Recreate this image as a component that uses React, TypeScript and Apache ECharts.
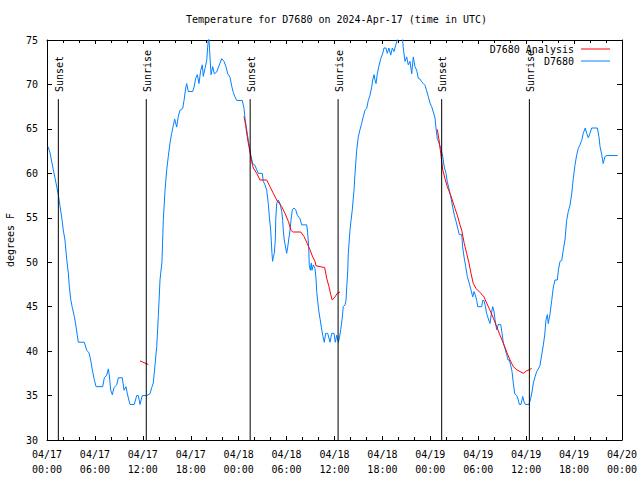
import { useEffect, useRef } from "react";
import * as echarts from "echarts";

const TITLE = "Temperature for D7680 on 2024-Apr-17 (time in UTC)";
const Y_NAME = "degrees F";
const OBS_NAME = "D7680";
const ANA_NAME = "D7680 Analysis";
const FONT = '"DejaVu Sans Mono", "Liberation Mono", monospace';

// hours since 2024-04-17 00:00 UTC
const obsHours = [
  0.13, 0.38, 0.79, 1.13, 1.42, 1.63, 1.88, 2.04, 2.25, 2.47, 2.67, 2.79, 2.97, 3.17, 3.42, 3.63, 3.79, 3.92, 4.67, 4.97,
  5.26, 5.47, 5.67, 5.92, 6.14, 6.97, 7.18, 7.48, 7.68, 7.8, 7.98, 8.18, 8.39, 8.73, 8.93, 9.43, 9.64, 9.89, 10.06, 10.39,
  10.93, 11.23, 11.43, 11.65, 11.93, 12.48, 12.9, 13.11, 13.31, 13.52, 13.74, 13.94, 14.15, 14.4, 14.56, 14.78, 14.99, 15.19, 15.4, 15.61,
  15.82, 15.99, 16.24, 16.44, 16.65, 16.99, 17.16, 17.37, 17.49, 17.69, 18.24, 18.41, 18.62, 18.82, 19.03, 19.25, 19.45, 19.57, 19.78, 20.0,
  20.12, 20.25, 20.41, 20.54, 20.75, 20.95, 21.25, 21.54, 21.88, 22.16, 22.41, 22.63, 22.92, 23.13, 23.33, 23.54, 23.75, 24.46, 24.67, 24.79,
  25.01, 25.21, 25.42, 25.55, 25.76, 26.05, 26.26, 26.46, 26.96, 27.08, 27.3, 27.51, 27.71, 27.84, 28.01, 28.17, 28.25, 28.34, 28.46, 28.59,
  28.64, 28.76, 28.96, 29.18, 29.39, 29.51, 29.59, 29.71, 29.89, 30.01, 30.14, 30.26, 30.43, 30.55, 30.72, 30.93, 31.14, 31.34, 31.68, 31.89,
  32.52, 32.64, 32.77, 32.84, 32.97, 33.1, 33.18, 33.35, 33.56, 33.68, 33.77, 33.9, 34.02, 34.18, 34.35, 34.52, 34.72, 34.9, 35.15, 35.44,
  35.65, 35.94, 36.1, 36.28, 36.48, 36.6, 36.78, 36.94, 37.1, 37.32, 37.44, 37.53, 37.65, 37.73, 37.94, 38.07, 38.23, 38.44, 38.57, 38.78,
  38.98, 39.19, 39.4, 39.61, 39.82, 40.03, 40.23, 40.45, 40.66, 40.78, 40.95, 41.07, 41.2, 41.36, 41.54, 41.79, 42.04, 42.2, 42.45, 42.61,
  42.82, 43.04, 43.24, 43.45, 43.66, 43.86, 44.01, 44.49, 44.61, 44.83, 45.04, 45.24, 45.45, 45.67, 45.87, 46.08, 46.29, 46.49, 46.71, 46.92,
  47.12, 47.33, 47.54, 47.75, 47.96, 48.17, 48.37, 48.59, 48.71, 48.87, 49.09, 49.3, 49.55, 49.75, 49.96, 50.12, 50.38, 50.59, 50.8, 51.0,
  51.22, 51.43, 51.63, 51.93, 52.05, 52.22, 52.43, 52.63, 52.88, 53.09, 53.31, 53.47, 53.63, 53.81, 53.93, 54.43, 54.56, 54.72, 54.85, 55.06,
  55.31, 55.47, 55.64, 55.81, 55.97, 56.1, 56.31, 56.51, 56.81, 56.98, 57.14, 57.35, 57.56, 57.73, 57.89, 58.06, 58.23, 58.39, 58.57, 58.82,
  59.02, 59.14, 59.35, 59.57, 59.73, 59.89, 60.36, 60.57, 60.73, 60.9, 61.11, 61.32, 61.52, 61.73, 61.95, 62.15, 62.32, 62.48, 62.65, 62.77,
  62.99, 63.2, 63.4, 63.61, 63.9, 64.03, 64.24, 64.45, 64.65, 64.86, 65.07, 65.27, 65.49, 65.7, 65.9, 66.11, 66.33, 66.53, 66.74, 66.95,
  67.15, 67.4, 67.58, 67.78, 67.99, 68.2, 68.91, 69.12, 69.25, 69.46, 69.65, 69.87, 70.08, 71.46,
];
const obsTempF = [
  63, 62.3, 60.4, 58.9, 57.6, 56.3, 54.8, 53.6, 52.5, 50.3, 48.8, 47.3, 45.8, 44.9, 43.9, 42.8, 41.8, 41, 41, 40.1,
  39.8, 39, 37.9, 36.8, 36, 36, 37, 37.3, 38, 37.3, 35.6, 35.1, 35.9, 36.2, 37, 37, 35.6, 36, 35.2, 34,
  34, 35, 35, 34, 35, 35, 35.2, 35.9, 36.4, 38.4, 40.5, 43.9, 48, 50.1, 54.7, 58.1, 60.4, 61.9, 63.4, 64.5,
  65.4, 66.1, 65.2, 66.4, 67.1, 67.3, 68.2, 69.6, 70.1, 69.2, 69.2, 69.7, 70.7, 71.1, 70.1, 71.6, 72.2, 70.9, 71.8, 72.7,
  74.2, 75.5, 73.1, 71.1, 72, 71.2, 71.4, 72.1, 72.9, 72.6, 72, 71.2, 70.8, 69.8, 69.1, 68.6, 68.2, 68.2, 67.3, 66.2,
  64.9, 63.7, 62.6, 61.9, 61.1, 60.9, 60.4, 60, 60, 59.1, 58.7, 58.1, 56.6, 55.1, 53.6, 51, 50.1, 50.6, 51, 52.5,
  54.7, 56.6, 57, 56.6, 55.7, 54.7, 53.6, 52.5, 51.6, 51, 51.7, 52.5, 53.6, 54.7, 55.9, 56.1, 55.9, 55.3, 54.9, 54.2,
  54.2, 53.3, 51.7, 49.7, 49.1, 49.9, 49.1, 49.7, 49.3, 48.2, 46.7, 45.6, 44.6, 43.7, 42.7, 41.8, 41, 42, 42, 41,
  42, 42, 41, 41.8, 41, 41.4, 42.4, 43.5, 45, 45.2, 45.7, 47.2, 48.9, 51, 53.6, 54.7, 55.9, 58.1, 60, 62.6,
  64.1, 64.9, 65.6, 66.4, 67.1, 67.3, 68.2, 68.8, 69.7, 70.5, 71.1, 70.5, 70.1, 71.2, 72, 72.9, 73.5, 74.1, 74.1, 73.5,
  74.1, 73.3, 74.1, 73.7, 74.4, 75, 75.5, 75.5, 74.1, 72.6, 73.1, 72.2, 72.6, 71.2, 73.1, 72, 71.6, 70.7, 70.6, 70.3,
  70.1, 69.9, 69.3, 68.6, 67.9, 67.5, 66.9, 66.2, 65.1, 63.9, 63.4, 62.8, 61.9, 60.7, 60, 59.1, 58.1, 57.2, 56.2, 55.3,
  54.6, 53.8, 53.1, 53.1, 51.7, 50.6, 49.5, 48.4, 47.6, 46.9, 46.1, 46.7, 46.3, 45.7, 45, 45, 45.7, 45.7, 45.2, 44.2,
  43.5, 43.1, 44.2, 45, 44.5, 43.5, 42.4, 43, 43, 42, 40.9, 40.3, 39.6, 39, 39, 38.4, 37.7, 36.4, 35.2, 35,
  34.5, 34, 34, 34.9, 34.3, 34, 34, 34.7, 35.4, 36.4, 37.1, 37.7, 38, 38.4, 39.6, 40.7, 41.8, 43.5, 44.1, 43.1,
  44.2, 45.7, 47.2, 48, 48, 49.1, 50.1, 50.2, 51.4, 52.5, 54.7, 55.7, 56.4, 57.7, 59.4, 60.9, 62.1, 62.8, 63.2, 63.7,
  64.5, 65.1, 64.5, 64, 64.5, 65.1, 65.1, 64.1, 63, 62.1, 61.1, 61.9, 62, 62,
];

// analysis runs (hours, degF)
const anaHours1 = [11.65, 12.02, 12.4, 12.69];
const anaTempF1 = [38.9, 38.75, 38.6, 38.5];
const anaHours2 = [
  24.67, 24.88, 25.01, 25.21, 25.42, 25.63, 25.83, 26.26, 26.67, 27.51, 27.92, 28.34, 28.76, 29.39, 29.8, 30.22, 30.55, 30.77,
  31.77, 32.18, 32.59, 32.93, 33.27, 33.56, 33.68, 34.77, 35.02, 35.31, 35.52, 35.72, 36.06, 36.35, 36.69,
];
const anaTempF2 = [
  66.4, 65.4, 64.5, 63.4, 62.4, 61.3, 60.6, 60, 59.25, 59.25, 58.5, 57.75, 57, 56.25, 55.5, 54.6, 53.6, 53.4,
  53.4, 52.9, 52.1, 51.4, 50.6, 50.1, 49.6, 49.4, 48.2, 47.25, 46.4, 45.75, 46.1, 46.5, 46.65,
];
const anaHours3 = [
  48.87, 49.09, 49.3, 49.55, 49.84, 50.12, 50.46, 50.75, 51.09, 51.38, 51.71, 51.93, 52.25, 52.55, 52.84, 53.09, 53.38,
  53.72, 54.22, 54.72, 55.06, 55.47, 55.89, 56.31, 56.72, 57.14, 57.56, 57.98, 58.39, 58.82, 59.23, 59.64, 60.07, 60.39, 60.69,
];
const anaTempF3 = [
  64.95, 63.75, 62.25, 60.4, 59.4, 58.5, 57.75, 57, 56.05, 55.3, 54.2, 53.6, 52.1, 51, 49.9, 48.75, 47.6,
  47.05, 46.6, 46.1, 45.4, 44.6, 43.7, 42.75, 41.8, 40.9, 39.9, 39, 38.25, 37.9, 37.7, 37.5, 37.8, 37.9, 38.05,
];

const sunHours = [1.42, 12.43, 25.44, 36.45, 49.42, 60.4];
const sunLabels = ["Sunset", "Sunrise", "Sunset", "Sunrise", "Sunset", "Sunrise"];
const SUN_LINE_TOP = 68.35; // degF level where the marker lines end

const X_MIN = 0;
const X_MAX = 72;
const X_STEP = 6;
const Y_MIN = 30;
const Y_MAX = 75;
const Y_STEP = 5;

const pad = (n: number) => (n < 10 ? "0" + n : "" + n);
const xLabel = (v: number) => {
  const day = 17 + Math.floor(v / 24);
  const hh = Math.round(v % 24);
  return `04/${day}\n${pad(hh)}:00`;
};

const pairs = (xs: number[], ys: number[]) => xs.map((x, i) => [x, ys[i]]);

export default function App() {
  const ref = useRef<HTMLDivElement>(null);
  useEffect(() => {
    if (!ref.current) return;
    const chart = echarts.init(ref.current, null, { renderer: "svg" });
    const anaData: any[] = [
      ...pairs(anaHours1, anaTempF1),
      [12.9, "-"],
      ...pairs(anaHours2, anaTempF2),
      [37, "-"],
      ...pairs(anaHours3, anaTempF3),
    ];
    const black = "#000000";
    const baseX = {
      type: "value",
      min: X_MIN,
      max: X_MAX,
      interval: X_STEP,
      axisLine: { show: true, onZero: false, lineStyle: { color: black, width: 1 } },
      axisTick: { show: true, inside: true, length: 4, lineStyle: { color: black } },
      minorTick: { show: true, splitNumber: 3, length: 3, lineStyle: { color: black } },
      splitLine: { show: false },
      minorSplitLine: { show: false },
    };
    const baseY = {
      type: "value",
      min: Y_MIN,
      max: Y_MAX,
      interval: Y_STEP,
      axisLine: { show: true, onZero: false, lineStyle: { color: black, width: 1 } },
      axisTick: { show: true, inside: true, length: 5, lineStyle: { color: black } },
      splitLine: { show: false },
    };
    const legendBase = {
      orient: "vertical",
      align: "right",
      right: 30,
      itemWidth: 29,
      itemHeight: 1,
      icon: "rect",
      padding: 0,
      selectedMode: false,
      textStyle: { fontFamily: FONT, fontSize: 10, color: black, padding: [0, 2, 0, 0] },
    };
    chart.setOption({
      animation: false,
      backgroundColor: "#ffffff",
      textStyle: { fontFamily: FONT },
      title: {
        text: TITLE,
        left: 186,
        top: 14,
        padding: 0,
        textStyle: { fontFamily: FONT, fontSize: 10, fontWeight: "normal", color: black },
      },
      legend: [
        { ...legendBase, top: 44, data: [ANA_NAME] },
        { ...legendBase, top: 56, data: [OBS_NAME] },
      ],
      grid: { left: 47, right: 18, top: 40, bottom: 40, containLabel: false, outerBoundsMode: "none" },
      xAxis: [
        {
          ...baseX,
          position: "bottom",
          axisLabel: {
            formatter: xLabel,
            fontFamily: FONT,
            fontSize: 10,
            color: black,
            lineHeight: 15,
            margin: 7,
            showMinLabel: true,
            showMaxLabel: true,
          },
        },
        { ...baseX, position: "top", axisLabel: { show: false } },
      ],
      yAxis: [
        {
          ...baseY,
          position: "left",
          name: Y_NAME,
          nameLocation: "middle",
          nameGap: 32,
          nameRotate: 90,
          nameTextStyle: { fontFamily: FONT, fontSize: 10, color: black },
          axisLabel: { fontFamily: FONT, fontSize: 10, color: black, margin: 9 },
        },
        { ...baseY, position: "right", axisLabel: { show: false } },
      ],
      series: [
        {
          name: OBS_NAME,
          type: "line",
          data: pairs(obsHours, obsTempF),
          symbol: "none",
          lineStyle: { color: "#0080ff", width: 1 },
          itemStyle: { color: "#0080ff" },
          clip: true,
          z: 2,
        },
        {
          name: ANA_NAME,
          type: "line",
          data: anaData,
          symbol: "none",
          connectNulls: false,
          lineStyle: { color: "#ff0000", width: 1 },
          itemStyle: { color: "#ff0000" },
          clip: true,
          z: 3,
        },
        {
          name: "sun",
          type: "custom",
          data: sunHours.map((h) => [h, Y_MIN]),
          silent: true,
          z: 4,
          renderItem: (params: any, api: any) => {
            const h = api.value(0);
            const p0 = api.coord([h, Y_MIN]);
            const p1 = api.coord([h, SUN_LINE_TOP]);
            return {
              type: "group",
              children: [
                {
                  type: "line",
                  shape: { x1: p0[0], y1: p0[1], x2: p1[0], y2: p1[1] },
                  style: { stroke: black, lineWidth: 1 },
                },
                {
                  type: "text",
                  x: p1[0] + 1,
                  y: p1[1] - 7,
                  rotation: Math.PI / 2,
                  style: {
                    text: sunLabels[params.dataIndex],
                    fill: black,
                    font: `10px ${FONT}`,
                    align: "left",
                    verticalAlign: "middle",
                  },
                },
              ],
            };
          },
        },
      ],
    });
    return () => chart.dispose();
  }, []);
  return (
    <div
      ref={ref}
      style={{ position: "fixed", left: 0, top: 0, width: 640, height: 480, background: "#fff" }}
    />
  );
}
